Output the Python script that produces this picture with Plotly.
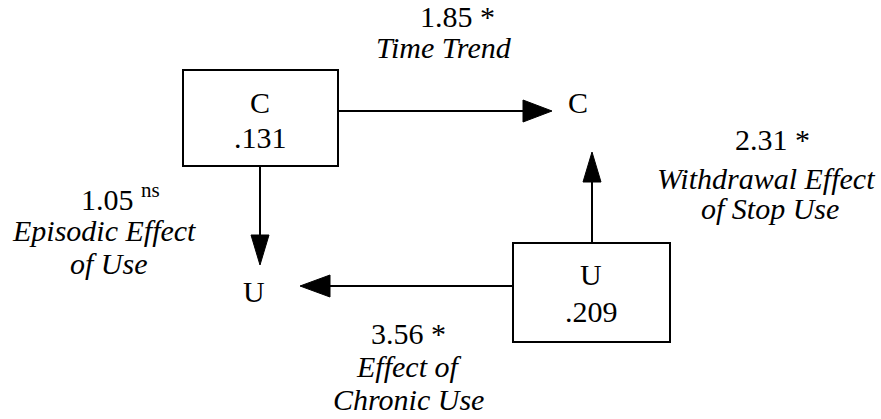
import plotly.graph_objects as go

# ---- data ----
path_names = ["Time Trend", "Episodic Effect of Use", "Withdrawal Effect of Stop Use", "Effect of Chronic Use"]
path_coefs = [1.85, 1.05, 2.31, 3.56]
path_sig = ["*", "ns", "*", "*"]
node_labels = ["C", "U"]
node_values = [0.131, 0.209]

W, H = 881, 419
FONT = "Liberation Serif, Times New Roman, serif"
FS = 30
LW = 2

fig = go.Figure()
shapes = []
ann = []

def text(x, y, s, italic=False):
    ann.append(dict(x=x, y=y, xref="x", yref="y", text=s, showarrow=False,
                    xanchor="center", yanchor="middle",
                    font=dict(family=FONT, size=FS, color="black",
                              style="italic" if italic else "normal")))

def line(x0, y0, x1, y1):
    shapes.append(dict(type="line", x0=x0, y0=y0, x1=x1, y1=y1, xref="x", yref="y",
                       line=dict(color="black", width=LW)))

def head(pts):
    p = "M " + " L ".join(f"{a},{b}" for a, b in pts) + " Z"
    shapes.append(dict(type="path", path=p, xref="x", yref="y",
                       fillcolor="black", line=dict(color="black", width=1)))

def box(x0, y0, x1, y1):
    shapes.append(dict(type="rect", x0=x0, y0=y0, x1=x1, y1=y1, xref="x", yref="y",
                       line=dict(color="black", width=LW), fillcolor="rgba(0,0,0,0)"))

def fmt_val(v):
    return f"{v:.3f}".lstrip("0")

def fmt_coef(c, s):
    return f"{c:.2f} *" if s == "*" else f"{c:.2f} <sup>{s}</sup>"

# boxes (time 1)
box(183, 70, 338, 166)
text(260, 102.5, node_labels[0])
text(260, 137.5, fmt_val(node_values[0]))
box(513, 243, 670, 342)
text(591, 274.5, node_labels[1])
text(591, 311.5, fmt_val(node_values[1]))

# targets (time 2)
text(578, 102.5, node_labels[0])
text(254, 291.5, node_labels[1])

# arrows
line(338, 111, 525, 111); head([(523, 100), (552, 111), (523, 122)])
line(260, 166, 260, 237); head([(251, 235), (260, 265), (269, 235)])
line(592, 243, 592, 180); head([(583, 182), (592, 152), (601, 182)])
line(513, 286, 328, 286); head([(330, 275), (300, 286), (330, 297)])

# path labels
text(457, 16.5, fmt_coef(path_coefs[0], path_sig[0]))
text(444, 47, path_names[0], italic=True)

text(120, 197, fmt_coef(path_coefs[1], path_sig[1]))
text(104, 230, "Episodic Effect", italic=True)
text(109, 263, "of Use", italic=True)

text(772, 139, fmt_coef(path_coefs[2], path_sig[2]))
text(766, 178, "Withdrawal Effect", italic=True)
text(770, 208, "of Stop Use", italic=True)

text(408, 333, fmt_coef(path_coefs[3], path_sig[3]))
text(408, 366, "Effect of", italic=True)
text(408, 399, "Chronic Use", italic=True)

fig.update_layout(
    width=W, height=H, margin=dict(l=0, r=0, t=0, b=0),
    plot_bgcolor="white", paper_bgcolor="white",
    xaxis=dict(range=[0, W], visible=False, fixedrange=True),
    yaxis=dict(range=[H, 0], visible=False, fixedrange=True),
    shapes=shapes, annotations=ann, showlegend=False,
)
fig.write_html("out.html", config={"displayModeBar": False, "staticPlot": True},
               post_script="document.body.style.margin='0';document.body.style.overflow='hidden';")
